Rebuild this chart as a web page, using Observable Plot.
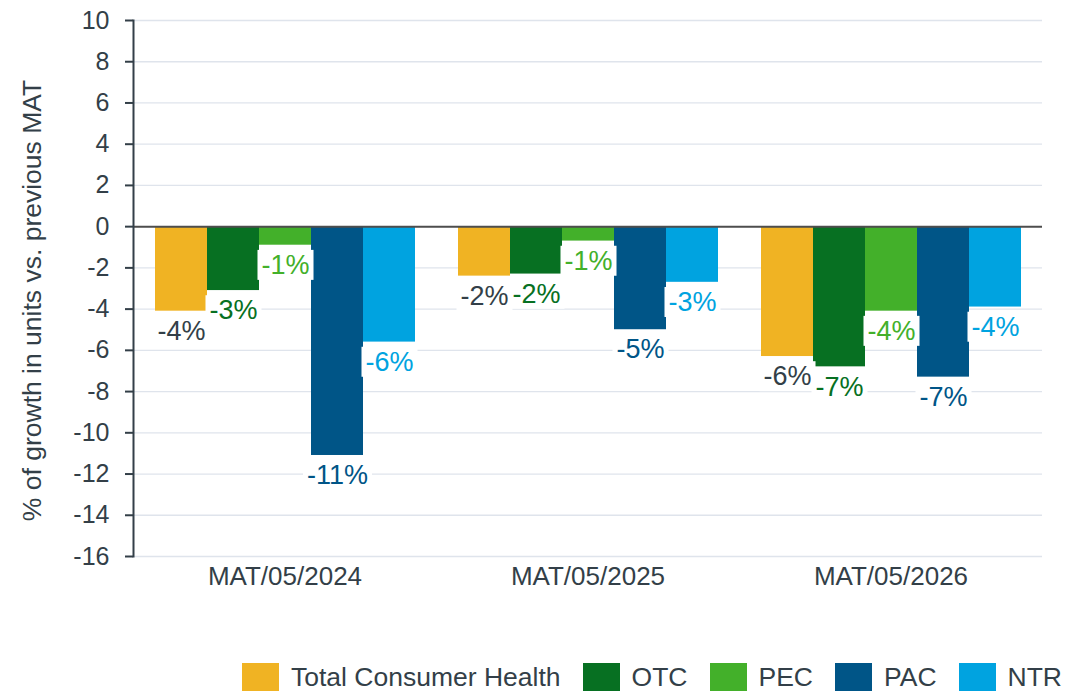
<!DOCTYPE html>
<html>
<head>
<meta charset="utf-8">
<script src="https://cdn.jsdelivr.net/npm/d3@7"></script>
<script src="https://cdn.jsdelivr.net/npm/@observablehq/plot@0.6"></script>
<style>
  body { margin: 0; background: #fff; font-family: "Liberation Sans", Arial, sans-serif; }
  #chart { width: 1066px; }
  .legend { display: flex; justify-content: flex-end; align-items: center; height: 32px; padding: 11px 4px 0 0; color: #333F48; font-size: 26.5px; }
  .legend .item { display: flex; align-items: center; margin-left: 22px; }
  .legend .item:first-child { margin-left: 0; }
  .legend .sw { width: 37px; height: 28px; margin-right: 12px; }
</style>
</head>
<body>
<div id="chart"></div>
<script>
// ---- data ----
const periods = ["MAT/05/2024", "MAT/05/2025", "MAT/05/2026"];
const seriesNames = ["Total Consumer Health", "OTC", "PEC", "PAC", "NTR"];
const seriesColors = ["#F0B323", "#077022", "#43B02A", "#005587", "#00A3E0"];
const labelColors = ["#333F48", "#077022", "#43B02A", "#005587", "#00A3E0"];
const totalConsumerHealth = [-4.1, -2.4, -6.3];
const otc = [-3.1, -2.3, -6.8];
const pec = [-0.9, -0.7, -4.1];
const pac = [-11.1, -5.0, -7.3];
const ntr = [-5.6, -2.7, -3.9];
const yTicks = [10, 8, 6, 4, 2, 0, -2, -4, -6, -8, -10, -12, -14, -16];
const yLabel = "% of growth in units vs. previous MAT";

const seriesValues = [totalConsumerHealth, otc, pec, pac, ntr];
const rows = [];
seriesNames.forEach((s, i) => {
  periods.forEach((p, j) => rows.push({ period: p, series: s, value: seriesValues[i][j] }));
});

const font = "Liberation Sans, Arial, sans-serif";

const chart = Plot.plot({
  width: 1066,
  height: 650,
  marginTop: 20,
  marginBottom: 94,
  marginLeft: 132,
  marginRight: 24,
  style: { fontFamily: font, color: "#333F48", background: "white", overflow: "visible" },
  fx: { domain: periods, padding: 0, label: null, axis: null },
  x: { domain: seriesNames, paddingInner: 0, paddingOuter: 0.41, axis: null },
  y: { domain: [-16, 10], label: null, axis: null },
  color: { domain: seriesNames, range: seriesColors },
  marks: [
    Plot.ruleY(yTicks.filter(d => d !== 0), { stroke: "#DFE4EC", strokeWidth: 1.3 }),
    Plot.barY(rows, { fx: "period", x: "series", y: "value", fill: "series" }),
    Plot.ruleY([0], { stroke: "#4D4D4D", strokeWidth: 2 }),
    Plot.frame({ anchor: "left", facetAnchor: "left", stroke: "#333F48", strokeWidth: 2 }),
    Plot.axisY({
      ticks: yTicks, tickSize: 8, tickPadding: 16, tickFormat: d => String(d),
      fontSize: 25, strokeWidth: 2, label: yLabel, labelAnchor: "center",
      labelOffset: 111, labelArrow: "none"
    }),
    Plot.axisFx({ anchor: "bottom", tickSize: 0, tickPadding: 10, fontSize: 26, label: null }),
    ...seriesNames.map((s, i) => Plot.text(rows.filter(r => r.series === s), {
      fx: "period", x: "series", y: "value",
      text: d => `${Math.round(d.value)}%`,
      fill: labelColors[i], lineAnchor: "top", dy: 9.5, fontSize: 27
    }))
  ]
});

document.getElementById("chart").appendChild(chart);

// white boxes behind the value labels
chart.querySelectorAll('g[aria-label="text"] text').forEach(t => {
  const b = t.getBBox();
  const r = document.createElementNS("http://www.w3.org/2000/svg", "rect");
  r.setAttribute("x", b.x - 4);
  r.setAttribute("y", b.y);
  r.setAttribute("width", b.width + 8);
  r.setAttribute("height", b.height);
  r.setAttribute("fill", "white");
  r.setAttribute("stroke", "none");
  if (t.getAttribute("transform")) r.setAttribute("transform", t.getAttribute("transform"));
  t.parentNode.insertBefore(r, t);
});

// y-axis title: size and slight downward shift as in the reference
const yl = chart.querySelector('g[aria-label="y-axis label"]');
if (yl) {
  yl.setAttribute("font-size", "26.5");
  yl.querySelectorAll("text").forEach(t => t.setAttribute("font-size", "26.5"));
  yl.setAttribute("transform", ((yl.getAttribute("transform") || "") + " translate(0,12)").trim());
}

// legend
const legend = document.createElement("div");
legend.className = "legend";
seriesNames.forEach((s, i) => {
  const item = document.createElement("div");
  item.className = "item";
  const sw = document.createElement("span");
  sw.className = "sw";
  sw.style.background = seriesColors[i];
  const tx = document.createElement("span");
  tx.textContent = s;
  item.appendChild(sw);
  item.appendChild(tx);
  legend.appendChild(item);
});
document.getElementById("chart").appendChild(legend);
</script>
</body>
</html>
